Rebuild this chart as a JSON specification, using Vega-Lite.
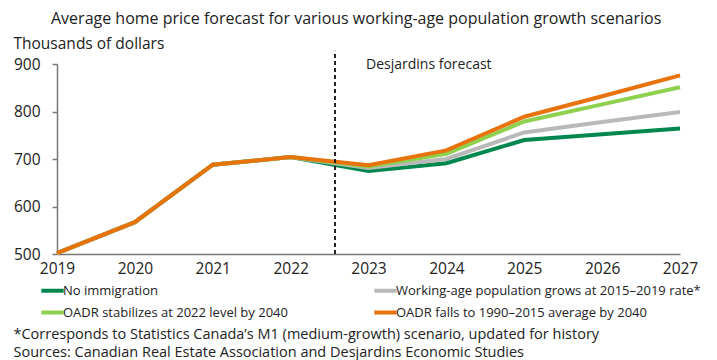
{
  "$schema": "https://vega.github.io/schema/vega-lite/v6.json",
  "width": 623,
  "height": 190,
  "autosize": {"type": "none"},
  "padding": {"left": 57, "top": 64, "right": 37, "bottom": 106},
  "background": "white",
  "config": {"view": {"stroke": null}, "font": "Open Sans"},
  "title": {
    "text": "Average home price forecast for various working-age population growth scenarios",
    "anchor": "start", "frame": "group", "dx": -6, "offset": 9,
    "font": "Open Sans", "fontSize": 16, "fontWeight": "normal", "color": "#222"
  },
  "datasets": {
    "prices": [
      {"scenario": "No immigration", "year": 2019, "value": 502},
      {"scenario": "No immigration", "year": 2020, "value": 567},
      {"scenario": "No immigration", "year": 2021, "value": 688},
      {"scenario": "No immigration", "year": 2022, "value": 704},
      {"scenario": "No immigration", "year": 2023, "value": 675},
      {"scenario": "No immigration", "year": 2024, "value": 691},
      {"scenario": "No immigration", "year": 2025, "value": 740},
      {"scenario": "No immigration", "year": 2026, "value": 752},
      {"scenario": "No immigration", "year": 2027, "value": 764},
      {"scenario": "Working-age population grows at 2015–2019 rate*", "year": 2019, "value": 502},
      {"scenario": "Working-age population grows at 2015–2019 rate*", "year": 2020, "value": 567},
      {"scenario": "Working-age population grows at 2015–2019 rate*", "year": 2021, "value": 688},
      {"scenario": "Working-age population grows at 2015–2019 rate*", "year": 2022, "value": 704},
      {"scenario": "Working-age population grows at 2015–2019 rate*", "year": 2023, "value": 681},
      {"scenario": "Working-age population grows at 2015–2019 rate*", "year": 2024, "value": 700},
      {"scenario": "Working-age population grows at 2015–2019 rate*", "year": 2025, "value": 756},
      {"scenario": "Working-age population grows at 2015–2019 rate*", "year": 2026, "value": 778},
      {"scenario": "Working-age population grows at 2015–2019 rate*", "year": 2027, "value": 799},
      {"scenario": "OADR stabilizes at 2022 level by 2040", "year": 2019, "value": 502},
      {"scenario": "OADR stabilizes at 2022 level by 2040", "year": 2020, "value": 567},
      {"scenario": "OADR stabilizes at 2022 level by 2040", "year": 2021, "value": 688},
      {"scenario": "OADR stabilizes at 2022 level by 2040", "year": 2022, "value": 704},
      {"scenario": "OADR stabilizes at 2022 level by 2040", "year": 2023, "value": 684},
      {"scenario": "OADR stabilizes at 2022 level by 2040", "year": 2024, "value": 711},
      {"scenario": "OADR stabilizes at 2022 level by 2040", "year": 2025, "value": 779},
      {"scenario": "OADR stabilizes at 2022 level by 2040", "year": 2026, "value": 815},
      {"scenario": "OADR stabilizes at 2022 level by 2040", "year": 2027, "value": 851},
      {"scenario": "OADR falls to 1990–2015 average by 2040", "year": 2019, "value": 502},
      {"scenario": "OADR falls to 1990–2015 average by 2040", "year": 2020, "value": 567},
      {"scenario": "OADR falls to 1990–2015 average by 2040", "year": 2021, "value": 688},
      {"scenario": "OADR falls to 1990–2015 average by 2040", "year": 2022, "value": 704},
      {"scenario": "OADR falls to 1990–2015 average by 2040", "year": 2023, "value": 687},
      {"scenario": "OADR falls to 1990–2015 average by 2040", "year": 2024, "value": 718},
      {"scenario": "OADR falls to 1990–2015 average by 2040", "year": 2025, "value": 789},
      {"scenario": "OADR falls to 1990–2015 average by 2040", "year": 2026, "value": 832},
      {"scenario": "OADR falls to 1990–2015 average by 2040", "year": 2027, "value": 876}
    ],
    "forecast": [
      {"year": 2022.57, "label": "Desjardins forecast"}
    ]
  },
  "layer": [
    {
      "data": {"name": "prices"},
      "mark": {"type": "line", "strokeWidth": 4},
      "encoding": {
        "x": {
          "field": "year", "type": "quantitative",
          "scale": {"domain": [2019, 2027], "nice": false, "zero": false},
          "axis": {
            "values": [2019, 2020, 2021, 2022, 2023, 2024, 2025, 2026, 2027],
            "format": "d", "ticks": false, "grid": false,
            "labelPadding": 7, "labelFontSize": 15.5, "labelColor": "#222",
            "labelFlush": false, "labelOverlap": false,
            "domainColor": "#777", "domainWidth": 1.5,
            "title": ["*Corresponds to Statistics Canada’s M1 (medium-growth) scenario, updated for history", "Sources: Canadian Real Estate Association and Desjardins Economic Studies"],
            "titleX": -44, "titleY": 73, "titleAlign": "left", "titleBaseline": "top",
            "titleFontSize": 14.5, "titleFontWeight": "normal", "titleColor": "#222", "titleLineHeight": 18.5
          }
        },
        "y": {
          "field": "value", "type": "quantitative",
          "scale": {"domain": [500, 900], "nice": false, "zero": false},
          "axis": {
            "values": [500, 600, 700, 800, 900],
            "tickSize": 5, "tickColor": "#777", "tickWidth": 1.5, "grid": false,
            "labelPadding": 12, "labelFontSize": 15.5, "labelColor": "#222",
            "domainColor": "#777", "domainWidth": 1.5,
            "title": "Thousands of dollars",
            "titleAngle": 0, "titleX": -44, "titleY": -21, "titleAlign": "left", "titleBaseline": "middle",
            "titleFontSize": 15.5, "titleFontWeight": "normal", "titleColor": "#222"
          }
        },
        "color": {
          "field": "scenario", "type": "nominal", "sort": null,
          "scale": {
            "domain": ["No immigration", "Working-age population grows at 2015–2019 rate*", "OADR stabilizes at 2022 level by 2040", "OADR falls to 1990–2015 average by 2040"],
            "range": ["#00874E", "#B9B9B9", "#8ED14F", "#E8720C"]
          },
          "legend": {
            "orient": "none", "legendX": -18, "legendY": 213,
            "columns": 2, "direction": "horizontal", "title": null,
            "symbolType": "stroke", "symbolSize": 500, "symbolStrokeWidth": 4,
            "labelFontSize": 13, "labelColor": "#222", "labelLimit": 500, "labelOffset": -3,
            "rowPadding": 0, "columnPadding": -2, "gridAlign": "all"
          }
        }
      }
    },
    {
      "data": {"name": "forecast"},
      "mark": {"type": "rule", "strokeDash": [4, 3], "strokeWidth": 2, "color": "#222", "clip": false},
      "encoding": {
        "x": {"field": "year", "type": "quantitative"},
        "y": {"datum": 500},
        "y2": {"datum": 928}
      }
    },
    {
      "data": {"name": "forecast"},
      "mark": {"type": "text", "align": "left", "baseline": "middle", "dx": 31, "dy": 1, "fontSize": 14, "font": "Open Sans", "color": "#222"},
      "encoding": {
        "x": {"field": "year", "type": "quantitative"},
        "y": {"datum": 899},
        "text": {"field": "label"}
      }
    }
  ]
}
